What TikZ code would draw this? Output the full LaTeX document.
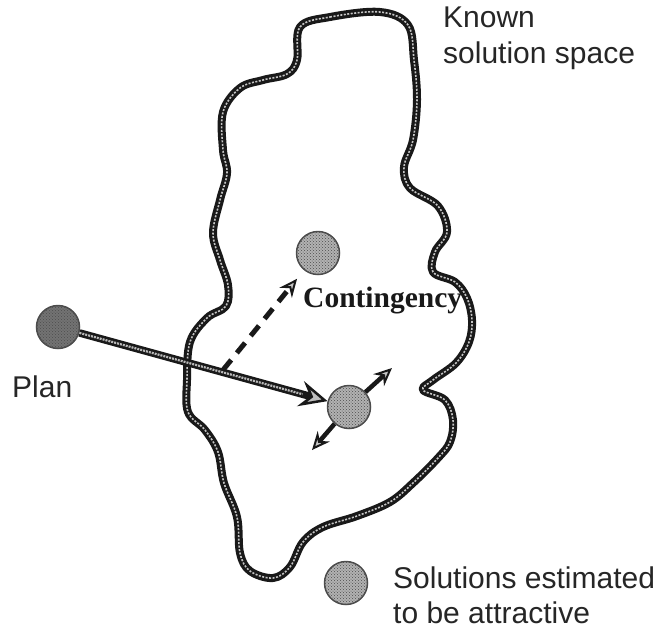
\documentclass[tikz,border=0pt]{standalone}
\usepackage{fontspec}
\setmainfont{Liberation Serif}
\newfontfamily\labelfont{Liberation Sans}
\usetikzlibrary{arrows.meta,patterns}
\begin{document}
\begin{tikzpicture}[x=1pt,y=-1pt,
  blob/.style={circle, minimum size=43pt, inner sep=0pt, draw=black!70, line width=1.5pt,
    preaction={fill=gray!60}, pattern=crosshatch dots, pattern color=black!70},
  darkblob/.style={blob, preaction={fill=black!55}},
  lbl/.style={anchor=base west, font=\labelfont\fontsize{30}{36}\selectfont, text=black!85, inner sep=0pt},
  rim/.style={line width=8pt, black!90, line join=round},
  rimtex/.style={line width=1.6pt, gray!45, dash pattern=on 2pt off 1.5pt},
  tipA/.style={-{Stealth[length=28pt,width=26pt,inset=10pt,line width=2.5pt,fill=gray!50]}},
  tipB/.style={-{Stealth[length=18pt,width=16pt,inset=6pt,line width=2pt,fill=gray!45]}}
]
\useasboundingbox (0,0) rectangle (666,633);
\fill[white] (0,0) rectangle (666,633);

% known solution space outline
\def\outline{plot[smooth cycle, tension=0.6] coordinates {
 (300,27) (330,17) (380,12) (408,25) (414,60) (417,100) (413,140) (404,167) (410,188)
 (438,206) (447,232) (435,252) (433,272) (455,282) (467,298) (472,320) (469,342)
 (456,363) (433,380) (423,390) (445,400) (453,420) (450,442) (438,458) (413,483)
 (390,502) (357,516) (323,527) (303,542) (290,567) (273,578) (250,571) (240,553)
 (237,517) (224,483) (218,452) (205,430) (188,412) (187,380) (190,342) (207,318)
 (226,306) (228,285) (220,260) (213,233) (220,200) (227,173) (223,150) (223,112)
 (240,88) (263,80) (287,74) (297,60)}}
\draw[rim] \outline;
\draw[rimtex] \outline;

% solution blobs
\node[darkblob] (plan) at (58,327) {};
\node[blob] (top) at (318,253) {};
\node[blob] (mid) at (349,407) {};
\node[blob] (legend) at (346,583) {};

% plan arrow
\draw[line width=7.5pt, black!90, tipA] (plan) -- (mid);
\draw[line width=2.2pt, gray!55, dash pattern=on 2pt off 1pt, shorten >=26pt] (plan) -- (mid);

% contingency dashed arrow
\coordinate (dstart) at (223,370);
\draw[line width=5pt, black!90, dash pattern=on 13pt off 9pt, shorten >=11pt, tipB] (dstart) -- (top);

% double arrow around middle solution
\coordinate (ur) at (392,368);
\coordinate (ll) at (312,450);
\draw[line width=4.5pt, black!90, tipB] (mid) -- (ur);
\draw[line width=4.5pt, black!90, tipB] (mid) -- (ll);

% labels
\node[anchor=base west, inner sep=0pt, font=\bfseries\fontsize{29.5}{36}\selectfont, text=black!90] (cont) at (303,307) {Contingency};
\node[lbl] (known1) at (443,27) {Known};
\node[lbl] (known2) at (443,63) {solution space};
\node[lbl] (planlbl) at (12,397) {Plan};
\node[lbl] (sol1) at (393,588) {Solutions estimated};
\node[lbl] (sol2) at (393,623) {to be attractive};
\end{tikzpicture}
\end{document}
